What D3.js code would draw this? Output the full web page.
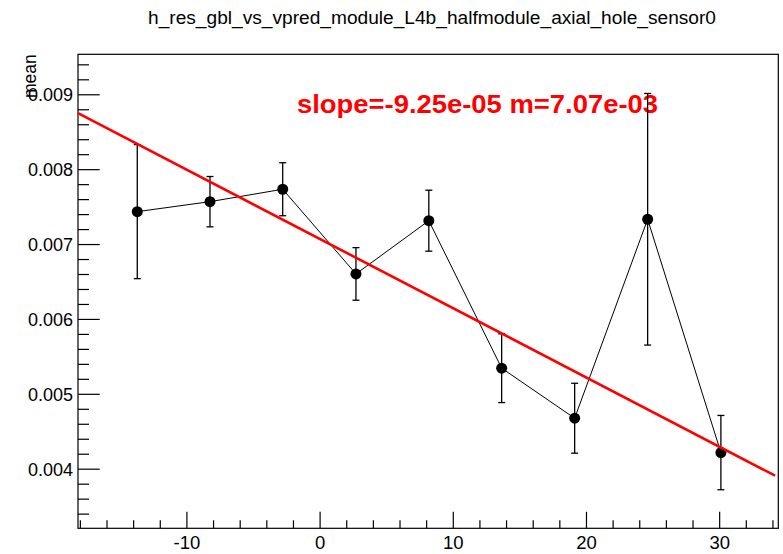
<!DOCTYPE html>
<html>
<head>
<meta charset="utf-8">
<script src="https://cdn.jsdelivr.net/npm/d3@7"></script>
<style>
  html, body { margin: 0; padding: 0; background: #fff; }
  svg { display: block; font-family: "Liberation Sans", Arial, Helvetica, sans-serif; }
</style>
</head>
<body>
<svg id="chart" width="783" height="554"></svg>
<script>
// ---- data ----
const chartTitle = "h_res_gbl_vs_vpred_module_L4b_halfmodule_axial_hole_sensor0";
const yAxisLabel = "mean";
const xValues = [-13.69, -8.23, -2.77, 2.73, 8.20, 13.67, 19.15, 24.63, 30.13];
const meanValues = [0.007433, 0.007566, 0.007732, 0.006601, 0.007312, 0.005342, 0.004674, 0.007331, 0.004215];
const errValues = [0.000895, 0.000336, 0.000354, 0.000351, 0.000407, 0.000459, 0.000467, 0.00168, 0.000496];
const xDomain = [-18.14, 34.44];
const yDomain = [0.003204, 0.009534];
const xTickValues = [-10, 0, 10, 20, 30];
const xTickLabels = ["-10", "0", "10", "20", "30"];
const yTickValues = [0.004, 0.005, 0.006, 0.007, 0.008, 0.009];
const yTickLabels = ["0.004", "0.005", "0.006", "0.007", "0.008", "0.009"];
const fitSlope = -9.25e-5;
const fitIntercept = 7.07e-3;
const fitXRange = [-18.14, 34.2];
const fitLabel = "slope=-9.25e-05 m=7.07e-03";

// ---- layout ----
const frame = { left: 78, top: 54.3, right: 778.3, bottom: 528.3 };
const svg = d3.select("#chart");

const x = d3.scaleLinear().domain(xDomain).range([frame.left, frame.right]);
const y = d3.scaleLinear().domain(yDomain).range([frame.bottom, frame.top]);

// frame
svg.append("rect")
  .attr("x", frame.left).attr("y", frame.top)
  .attr("width", frame.right - frame.left).attr("height", frame.bottom - frame.top)
  .attr("fill", "none").attr("stroke", "#000").attr("stroke-width", 1.2);

// title
svg.append("text")
  .attr("x", 148).attr("y", 24)
  .attr("font-size", 17.5)
  .attr("textLength", 568).attr("lengthAdjust", "spacingAndGlyphs")
  .text(chartTitle);

// fit label (drawn beneath the data marks)
svg.append("text")
  .attr("x", 297).attr("y", 112.5)
  .attr("font-size", 25).attr("font-weight", "bold")
  .attr("textLength", 361).attr("lengthAdjust", "spacingAndGlyphs")
  .attr("fill", "#ff0000")
  .text(fitLabel);

// x axis
const xMinor = d3.range(-18, 35, 2).filter(v => v >= xDomain[0] && v <= xDomain[1] && !xTickValues.includes(v));
const gx = svg.append("g").attr("transform", `translate(0,${frame.bottom})`)
  .call(d3.axisBottom(x).tickValues(xTickValues).tickSize(-16.5).tickSizeOuter(0).tickPadding(0)
    .tickFormat((d, i) => xTickLabels[i]));
gx.select(".domain").remove();
gx.selectAll(".tick line").attr("stroke", "#000").attr("stroke-width", 1.2);
gx.selectAll(".tick text").attr("y", 21).attr("dy", 0).attr("font-size", 18.5).attr("fill", "#000").attr("font-family", "Liberation Sans, Arial, sans-serif");
const gxm = svg.append("g").attr("transform", `translate(0,${frame.bottom})`)
  .call(d3.axisBottom(x).tickValues(xMinor).tickSize(-8).tickSizeOuter(0).tickFormat(""));
gxm.select(".domain").remove();
gxm.selectAll(".tick line").attr("stroke", "#000").attr("stroke-width", 1.2);

// y axis
const yMinor = d3.range(32, 96, 2).map(v => v / 10000).filter(v => v >= yDomain[0] && v <= yDomain[1] && !yTickValues.some(t => Math.abs(t - v) < 1e-9));
const gy = svg.append("g").attr("transform", `translate(${frame.left},0)`)
  .call(d3.axisLeft(y).tickValues(yTickValues).tickSize(-21.7).tickSizeOuter(0).tickPadding(0)
    .tickFormat((d, i) => yTickLabels[i]));
gy.select(".domain").remove();
gy.selectAll(".tick line").attr("stroke", "#000").attr("stroke-width", 1.2);
gy.selectAll(".tick text").attr("x", -5).attr("dy", "0.36em").attr("font-size", 18).attr("fill", "#000").attr("font-family", "Liberation Sans, Arial, sans-serif");
const gym = svg.append("g").attr("transform", `translate(${frame.left},0)`)
  .call(d3.axisLeft(y).tickValues(yMinor).tickSize(-11).tickSizeOuter(0).tickFormat(""));
gym.select(".domain").remove();
gym.selectAll(".tick line").attr("stroke", "#000").attr("stroke-width", 1.2);

// y label
svg.append("text")
  .attr("transform", `translate(36,${frame.top}) rotate(-90)`)
  .attr("text-anchor", "end")
  .attr("font-size", 17.5)
  .text(yAxisLabel);

// data
const pts = xValues.map((xv, i) => ({ x: xv, y: meanValues[i], e: errValues[i] }));
const plot = svg.append("g");

plot.append("path")
  .datum(pts)
  .attr("fill", "none").attr("stroke", "#000").attr("stroke-width", 1)
  .attr("d", d3.line().x(d => x(d.x)).y(d => y(d.y)));

const eb = plot.selectAll("g.err").data(pts).enter().append("g").attr("class", "err");
eb.append("line")
  .attr("x1", d => x(d.x)).attr("x2", d => x(d.x))
  .attr("y1", d => y(d.y + d.e)).attr("y2", d => y(d.y - d.e))
  .attr("stroke", "#000").attr("stroke-width", 1.3);
eb.append("line")
  .attr("x1", d => x(d.x) - 3.5).attr("x2", d => x(d.x) + 3.5)
  .attr("y1", d => y(d.y + d.e)).attr("y2", d => y(d.y + d.e))
  .attr("stroke", "#000").attr("stroke-width", 1.3);
eb.append("line")
  .attr("x1", d => x(d.x) - 3.5).attr("x2", d => x(d.x) + 3.5)
  .attr("y1", d => y(d.y - d.e)).attr("y2", d => y(d.y - d.e))
  .attr("stroke", "#000").attr("stroke-width", 1.3);

plot.selectAll("circle").data(pts).enter().append("circle")
  .attr("cx", d => x(d.x)).attr("cy", d => y(d.y)).attr("r", 5.5)
  .attr("fill", "#000");

// fit line
svg.append("line")
  .attr("x1", x(fitXRange[0])).attr("y1", y(fitIntercept + fitSlope * fitXRange[0]))
  .attr("x2", x(fitXRange[1])).attr("y2", y(fitIntercept + fitSlope * fitXRange[1]))
  .attr("stroke", "#ff0000").attr("stroke-width", 2.6);
</script>
</body>
</html>
